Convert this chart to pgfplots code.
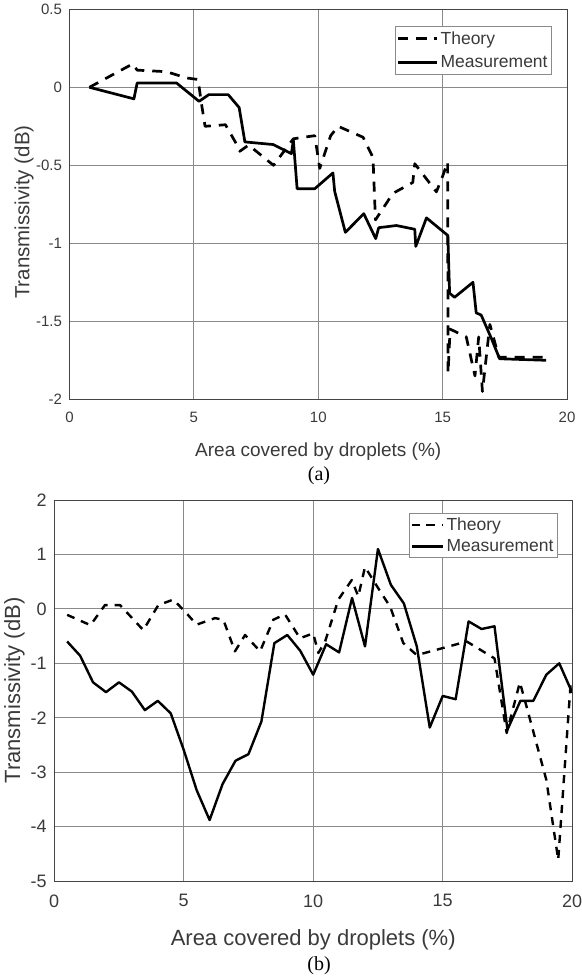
\documentclass[border=0pt]{standalone}
\usepackage{fontspec}
\setmainfont{Liberation Serif}
\setsansfont{Liberation Sans}
\newfontfamily\arial{Liberation Sans}
\usepackage{pgfplots}
\pgfplotsset{compat=1.18}

\definecolor{axgray}{HTML}{454545}
\definecolor{gridgray}{HTML}{8A8A8A}
\definecolor{txtgray}{HTML}{3A3A3A}

\pgfplotsset{mystyle/.style={
  scale only axis,
  xmin=0,xmax=20,
  xtick={0,5,10,15,20},
  grid=major,
  major grid style={gridgray, line width=0.8pt},
  axis line style={axgray, line width=0.9pt},
  major tick length=0pt,
  /pgf/number format/assume math mode=true,
  tick label style={txtgray},
  label style={txtgray},
  legend cell align=left,
  legend style={draw=gridgray, line width=0.8pt, text=txtgray,
    inner xsep=2pt},
  theory/.style={black, line width=2.7pt, dash pattern=on 10pt off 8pt, line join=round},
  meas/.style={black, line width=2.7pt, line join=round},
}}

\begin{document}
\begin{tikzpicture}
% ---------------- (a) ----------------
\begin{axis}[mystyle,
  at={(69.5pt,-9.3pt)}, anchor=north west,
  width=497.5pt, height=390pt,
  ymin=-2, ymax=0.5,
  ytick={-2,-1.5,-1,-0.5,0,0.5},
  tick label style={font=\arial\fontsize{15}{17}\selectfont},
  xticklabel style={yshift=-9pt},
  yticklabel style={xshift=-4pt},
  label style={font=\arial\fontsize{19}{22}\selectfont},
  xlabel={Area covered by droplets (\%)},
  ylabel={Transmissivity (dB)},
  xlabel style={at={(axis description cs:0.5,-0.135)}, anchor=center},
  ylabel style={at={(axis description cs:-0.0915,0.48)}, anchor=center, rotate=0,
    font=\arial\fontsize{20.5}{24}\selectfont},
  legend style={at={(rel axis cs:1,1)}, anchor=north east, xshift=-15pt, yshift=-16.7pt,
    font=\arial\fontsize{17.5}{20}\selectfont, inner ysep=3pt, row sep=6pt},
]
\addplot[theory, legend image code/.code={
  \path (0pt,0pt) -- (39pt,0pt);
  \draw[black,line width=2.7pt] (0pt,0pt)--(8pt,0pt) (20pt,0pt)--(29pt,0pt);}]
coordinates {
(0.8,0) (2.54,0.15) (2.72,0.11) (3.9,0.10) (4.7,0.06) (5.17,0.05) (5.3,-0.1)
(5.45,-0.25) (6.27,-0.24) (6.7,-0.36) (6.85,-0.41) (7.2,-0.37) (8.2,-0.5)
(9.0,-0.33) (9.86,-0.31) (10.06,-0.52) (10.5,-0.31) (10.8,-0.25) (11.8,-0.32)
(12.2,-0.45) (12.3,-0.85) (13.0,-0.68) (13.8,-0.61) (13.88,-0.49) (14.75,-0.67)
(15.0,-0.57) (15.2,-0.48) (15.22,-1.83) (15.3,-1.55) (15.95,-1.6) (16.3,-1.85)
(16.45,-1.6) (16.6,-1.95) (16.9,-1.52) (17.26,-1.73) (19.16,-1.73)
};
\addlegendentry{Theory}
\addplot[meas, legend image code/.code={
  \draw[black,line width=2.7pt] (0pt,0pt)--(39pt,0pt);}]
coordinates {
(0.8,0) (2.59,-0.074) (2.72,0.028) (4.3,0.028) (5.21,-0.09) (5.6,-0.047)
(6.38,-0.047) (6.82,-0.13) (7.05,-0.35) (8.19,-0.367) (8.92,-0.425) (9.0,-0.34)
(9.15,-0.65) (9.86,-0.65) (10.59,-0.549) (10.66,-0.667) (11.09,-0.93)
(11.83,-0.81) (12.31,-0.97) (12.43,-0.90) (13.14,-0.886) (13.88,-0.91)
(13.92,-1.02) (14.35,-0.837) (15.21,-0.95) (15.28,-1.32) (15.48,-1.346)
(16.22,-1.25) (16.35,-1.446) (16.55,-1.46) (16.95,-1.606) (17.29,-1.74)
(19.16,-1.75)
};
\addlegendentry{Measurement}
\end{axis}
\node[font=\fontsize{20}{24}\selectfont] at (319pt,-476pt) {(a)};

% ---------------- (b) ----------------
\begin{axis}[mystyle,
  at={(54.2pt,-500pt)}, anchor=north west,
  width=518pt, height=381pt,
  ymin=-5, ymax=2,
  ytick={-5,-4,-3,-2,-1,0,1,2},
  tick label style={font=\arial\fontsize{18}{21}\selectfont},
  xticklabel style={yshift=-10pt},
  yticklabel style={xshift=-4pt},
  label style={font=\arial\fontsize{22}{26}\selectfont},
  xlabel={Area covered by droplets (\%)},
  ylabel={Transmissivity (dB)},
  xlabel style={at={(axis description cs:0.5,-0.155)}, anchor=center},
  ylabel style={at={(axis description cs:-0.0766,0.5)}, anchor=center, rotate=0},
  legend style={at={(rel axis cs:1,1)}, anchor=north east, xshift=-14.3pt, yshift=-13.3pt,
    font=\arial\fontsize{17.5}{20}\selectfont, inner ysep=2pt, row sep=4pt},
  theory/.style={black, line width=2.4pt, dash pattern=on 8pt off 7pt, line join=round},
  meas/.style={black, line width=2.4pt, line join=round},
]
\addplot[theory, legend image code/.code={
  \path (0pt,0pt) -- (31pt,0pt);
  \draw[black,line width=2.4pt] (0pt,0pt)--(5pt,0pt) (13.5pt,0pt)--(20pt,0pt);}]
coordinates {
(0.5,-0.11) (1.4,-0.3) (1.96,0.07) (2.54,0.07) (3.44,-0.39) (4.02,0.07)
(4.6,0.17) (5.05,-0.05) (5.5,-0.29) (6.21,-0.17) (6.53,-0.2) (6.98,-0.78)
(7.37,-0.48) (7.95,-0.78) (8.46,-0.2) (8.91,-0.1) (9.49,-0.54) (10.0,-0.45)
(10.2,-0.81) (10.46,-0.6) (10.97,0.17) (11.49,0.53) (11.74,0.23) (12.0,0.77)
(12.51,0.38) (12.97,0.04) (13.48,-0.63) (14.0,-0.85) (15.93,-0.6) (17.0,-0.91)
(17.47,-2.28) (17.98,-1.35) (18.24,-1.8) (19.0,-3.14) (19.46,-4.61) (19.95,-1.3)
};
\addlegendentry{Theory}
\addplot[meas, legend image code/.code={
  \draw[black,line width=2.4pt] (0pt,0pt)--(31pt,0pt);}]
coordinates {
(0.5,-0.60) (1.0,-0.86) (1.5,-1.35) (2.0,-1.53) (2.5,-1.35) (3.0,-1.52)
(3.5,-1.86) (4.0,-1.69) (4.5,-1.92) (5.0,-2.59) (5.5,-3.33) (6.0,-3.88)
(6.5,-3.22) (7.0,-2.79) (7.5,-2.67) (8.0,-2.07) (8.5,-0.63) (9.0,-0.48)
(9.5,-0.77) (10.0,-1.21) (10.5,-0.65) (11.0,-0.80) (11.5,0.20) (12.0,-0.69)
(12.5,1.10) (13.0,0.44) (13.5,0.10) (14.0,-0.69) (14.5,-2.18) (15.0,-1.60)
(15.5,-1.66) (16.0,-0.23) (16.5,-0.37) (17.0,-0.32) (17.5,-2.22) (18.0,-1.69)
(18.5,-1.69) (19.0,-1.21) (19.5,-1.0) (20.0,-1.54)
};
\addlegendentry{Measurement}
\end{axis}
\node[font=\fontsize{20}{24}\selectfont] at (319pt,-966pt) {(b)};

\pgfresetboundingbox
\path[use as bounding box] (0pt,0pt) rectangle (581pt,-979pt);
\end{tikzpicture}
\end{document}
